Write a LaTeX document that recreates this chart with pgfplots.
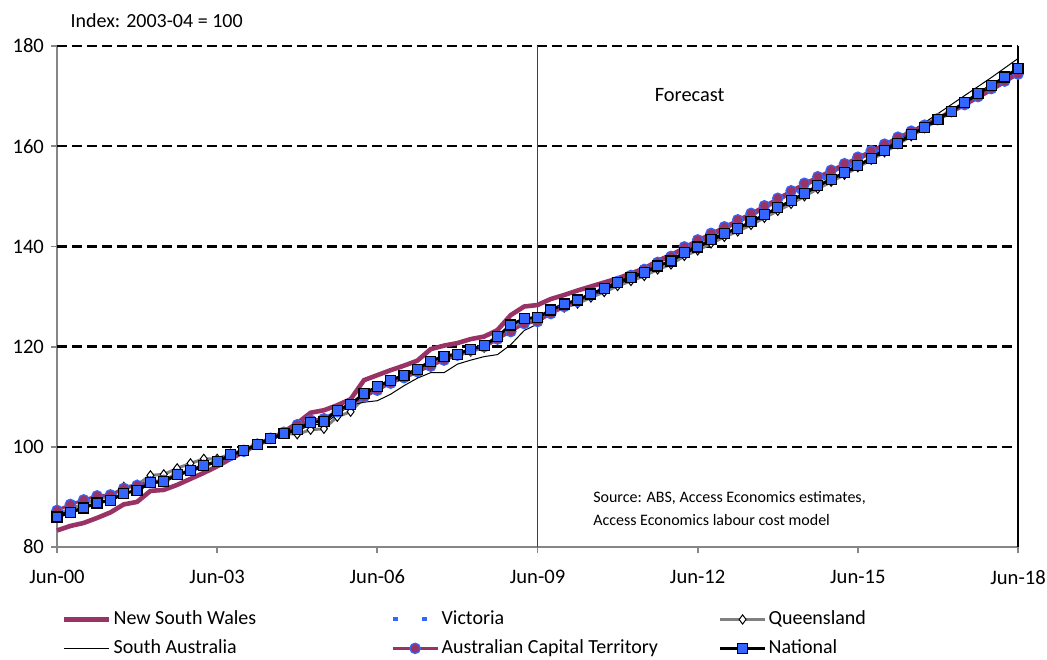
\documentclass[border=0pt]{standalone}
\usepackage{fontspec}
\setmainfont{Carlito}
\usepackage{pgfplots}
\usepackage{pgfplotstable}
\pgfplotsset{compat=1.18}
\definecolor{nswc}{RGB}{153,51,102}
\definecolor{bluec}{RGB}{51,102,255}
\definecolor{qldc}{RGB}{128,128,128}
\definecolor{axgray}{RGB}{134,134,134}

\pgfplotstableread{
i nsw vic qld sa act nat
0 83.3 86.8 86.6 86.5 87.3 86.0
1 84.2 87.8 87.6 87.2 88.5 86.9
2 84.8 88.7 88.6 88.0 89.4 87.8
3 85.8 89.6 89.6 88.9 90.2 88.8
4 86.9 89.9 90.0 89.5 90.4 89.3
5 88.5 91.3 92.0 90.8 91.7 90.7
6 89.0 91.9 92.4 91.4 92.3 91.3
7 91.2 92.9 94.3 92.6 93.0 92.8
8 91.4 93.2 94.5 93.0 93.3 93.1
9 92.4 94.5 95.7 94.2 94.5 94.4
10 93.6 95.2 96.7 95.0 95.3 95.2
11 94.8 96.3 97.6 96.0 96.3 96.3
12 96.1 97.0 97.6 96.9 97.1 97.0
13 97.6 98.3 98.6 98.2 98.3 98.4
14 99.0 99.1 99.4 99.1 99.1 99.2
15 100.5 100.5 100.6 100.3 100.5 100.5
16 101.5 101.6 101.6 101.3 101.7 101.6
17 103.0 102.8 102.7 102.4 102.9 102.7
18 104.7 104.0 102.5 103.2 104.4 103.5
19 106.8 105.1 103.4 104.3 105.3 104.9
20 107.3 105.4 103.6 104.6 105.6 105.1
21 108.3 107.1 106.0 106.5 107.0 107.3
22 109.5 108.4 107.0 108.3 108.5 108.5
23 113.3 110.2 109.8 108.9 110.0 110.6
24 114.3 111.6 111.5 109.2 111.3 112.0
25 115.3 112.9 112.8 110.5 112.7 113.3
26 116.2 114.0 113.8 112.2 113.8 114.3
27 117.2 115.2 114.8 113.7 115.0 115.5
28 119.5 116.5 116.5 114.8 116.1 117.1
29 120.2 117.6 117.6 114.8 117.3 118.1
30 120.7 118.4 118.2 116.5 118.3 118.5
31 121.5 119.4 119.0 117.3 119.3 119.5
32 122.0 120.1 119.8 118.0 120.0 120.2
33 123.3 121.7 121.5 118.4 121.5 122.0
34 126.3 123.6 123.6 120.4 123.0 124.3
35 128.0 125.0 124.9 123.2 124.6 125.6
36 128.3 125.3 125.3 124.5 125.0 125.8
37 129.5 126.9 126.6 126.8 126.6 127.3
38 130.3 128.2 127.8 128.0 128.0 128.5
39 131.2 129.1 128.6 129.0 129.0 129.3
40 132.0 130.4 129.8 130.1 130.3 130.5
41 132.8 131.6 130.9 131.2 131.6 131.6
42 133.6 132.9 132.1 132.4 133.0 132.8
43 134.6 134.0 133.1 133.5 134.2 133.8
44 135.6 135.1 134.1 134.6 135.4 134.8
45 137.1 136.4 135.4 135.8 136.8 136.1
46 138.3 137.5 136.4 137.0 138.0 137.1
47 139.6 139.3 138.1 138.4 139.9 138.8
48 140.9 140.6 139.2 139.7 141.3 139.9
49 142.2 142.0 140.6 141.0 142.6 141.3
50 143.6 143.2 141.9 142.3 143.9 142.6
51 145.0 144.4 143.0 143.5 145.3 143.6
52 146.3 145.7 144.3 144.8 146.6 144.9
53 147.8 147.2 145.7 146.2 148.1 146.3
54 149.3 148.6 147.1 147.6 149.6 147.7
55 150.8 150.1 148.5 149.0 151.1 149.1
56 152.3 151.6 150.0 150.4 152.6 150.6
57 153.6 153.0 151.5 151.9 153.9 152.1
58 154.9 154.3 152.9 153.3 155.2 153.4
59 156.2 155.6 154.3 154.7 156.5 154.7
60 157.5 157.0 155.8 156.1 157.8 156.1
61 158.8 158.3 157.3 157.8 159.1 157.6
62 160.1 159.7 158.8 159.5 160.4 159.1
63 161.5 161.2 160.4 161.2 161.8 160.6
64 162.8 162.6 162.0 163.0 163.0 162.3
65 164.1 164.0 163.6 164.7 164.2 163.8
66 165.5 165.4 165.2 166.5 165.5 165.4
67 166.9 166.9 166.9 168.3 166.9 167.0
68 168.3 168.4 168.6 170.1 168.3 168.7
69 169.8 170.1 170.3 171.9 169.9 170.5
70 171.3 171.7 172.0 173.7 171.5 172.1
71 172.9 173.3 173.7 175.6 173.0 173.8
72 174.6 174.9 175.4 177.5 174.4 175.5
}\data

\begin{document}
\begin{tikzpicture}
\path[use as bounding box] (0,0) rectangle (523.5pt,329.5pt);
\begin{axis}[
  at={(28.5pt,56pt)}, anchor=south west,
  scale only axis, width=480.5pt, height=250.5pt,
  xmin=0, xmax=72, ymin=80, ymax=180,
  clip=false,
  axis x line*=bottom, axis y line*=left,
  axis line style={draw=axgray, line width=0.9pt},
  xtick={0,12,...,72},
  xticklabels={Jun-00,Jun-03,Jun-06,Jun-09,Jun-12,Jun-15,Jun-18},
  ytick={80,100,...,180},
  tick align=outside, major tick length=3pt,
  tick style={draw=axgray, line width=0.9pt},
  ticklabel style={font=\fontsize{10.3}{12}\selectfont},
  xticklabel style={yshift=-5pt},
  /pgf/number format/assume math mode=true,
  legend columns=3,
  legend cell align=left,
  legend image code/.code={\draw[mark repeat=2,mark phase=2,#1] plot coordinates {(0pt,0pt) (11.25pt,0pt) (22.5pt,0pt)};},
  legend style={draw=none, fill=none, at={(0.0052,-0.1278)}, anchor=north west,
    inner sep=0pt, outer sep=0pt, row sep=6pt,
    nodes={inner sep=0pt, font=\fontsize{10}{12}\selectfont},
    /tikz/every odd column/.append style={column sep=1pt}},
]
\draw[black, line width=1.2pt, dash pattern=on 5pt off 2.5pt] (axis cs:0,100) -- (axis cs:72,100);
\draw[black, line width=1.2pt, dash pattern=on 5pt off 2.5pt] (axis cs:0,120) -- (axis cs:72,120);
\draw[black, line width=1.2pt, dash pattern=on 5pt off 2.5pt] (axis cs:0,140) -- (axis cs:72,140);
\draw[black, line width=1.2pt, dash pattern=on 5pt off 2.5pt] (axis cs:0,160) -- (axis cs:72,160);
\draw[black, line width=1.2pt, dash pattern=on 5pt off 2.5pt] (axis cs:0,180) -- (axis cs:72,180);
\draw[black!75, line width=0.6pt] (axis cs:36,80) -- (axis cs:36,180);
\draw[black, line width=0.6pt] (axis cs:72,80) -- (axis cs:72,180);

\addplot[color=nswc, line width=2.3pt, no markers] table[x=i,y=nsw]{\data};
\addlegendentry{\makebox[138.5pt][l]{New South Wales}}
\addplot[color=bluec, line width=2pt, dash pattern=on 2.5pt off 12pt, no markers] table[x=i,y=vic]{\data};
\addlegendentry{\makebox[138.5pt][l]{Victoria}}
\addplot[color=qldc, line width=1.5pt, mark=diamond*, mark size=2.3pt, mark options={fill=white, draw=black, line width=0.5pt, solid}] table[x=i,y=qld]{\data};
\addlegendentry{Queensland}
\addplot[black, line width=0.5pt, no markers] table[x=i,y=sa]{\data};
\addlegendentry{\makebox[138.5pt][l]{South Australia}}
\addplot[color=nswc, line width=1.5pt, mark=*, mark size=2.6pt, mark options={fill=nswc, draw=bluec, line width=0.6pt}] table[x=i,y=act]{\data};
\addlegendentry{\makebox[138.5pt][l]{Australian Capital Territory}}
\addplot[black, line width=1.5pt, mark=square*, mark size=2.5pt, mark options={fill=bluec, draw=black, line width=0.6pt}] table[x=i,y=nat]{\data};
\addlegendentry{National}

\node[font=\fontsize{10.2}{12}\selectfont] at (axis cs:47.4,170.2) {Forecast};
\node[anchor=west, inner sep=0pt, font=\fontsize{8}{9.5}\selectfont] at (axis cs:40.15,89.8) {Source: ABS, Access Economics estimates,};
\node[anchor=west, inner sep=0pt, font=\fontsize{8}{9.5}\selectfont] at (axis cs:40.15,85.4) {Access Economics labour cost model};
\end{axis}
\node[font=\fontsize{10}{12}\selectfont] at (78.3pt,319pt) {Index: 2003-04 = 100};
\end{tikzpicture}
\end{document}
